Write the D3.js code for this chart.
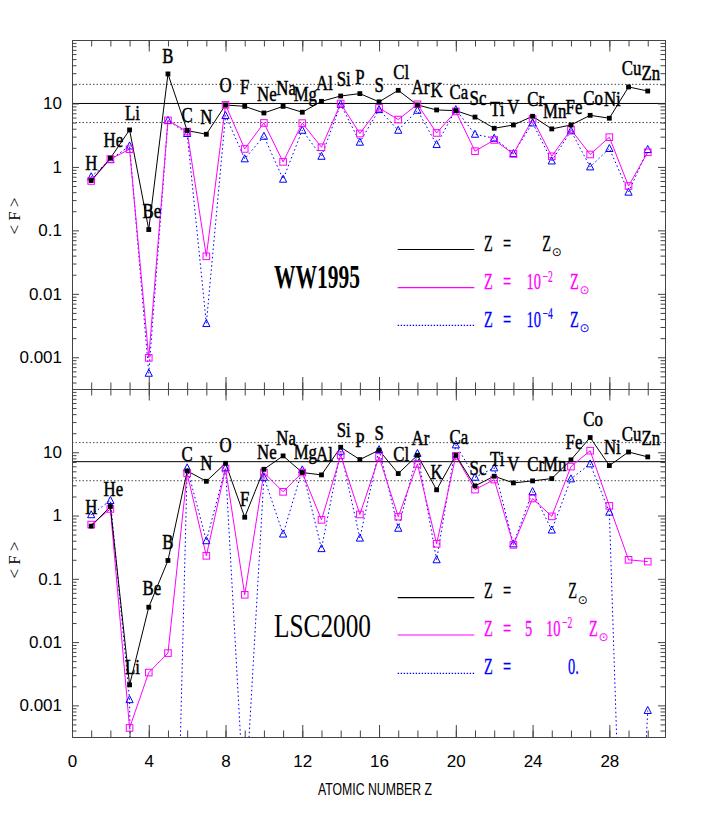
<!DOCTYPE html>
<html><head><meta charset="utf-8">
<script src="https://cdn.jsdelivr.net/npm/d3@7"></script>
<style>body{margin:0;background:#fff}svg{display:block}</style>
</head><body>
<svg id="c" width="708" height="830"></svg>
<script>
// ---------------- DATA ----------------
const elements = ["H","He","Li","Be","B","C","N","O","F","Ne","Na","Mg","Al","Si","P","S","Cl","Ar","K","Ca","Sc","Ti","V","Cr","Mn","Fe","Co","Ni","Cu","Zn"];
const atomicNumber = [1,2,3,4,5,6,7,8,9,10,11,12,13,14,15,16,17,18,19,20,21,22,23,24,25,26,27,28,29,30];

// WW1995
const wwSolar = [0.61,1.37,3.83,0.103,29.2,3.74,3.27,9.47,9.0,7.08,9.0,7.27,10.8,13.1,14.3,10.6,16.1,9.47,7.9,7.7,6.1,4.06,4.58,6.28,3.97,4.58,6.5,5.85,18.2,15.7];
const wwM2    = [0.6,1.33,1.9,0.00098,5.4,3.6,0.039,9.5,1.92,4.93,1.2,4.9,2.04,9.96,3.36,8.5,5.57,9.7,3.43,7.5,1.77,2.66,1.6,5.7,1.47,3.88,1.57,2.94,0.50,1.7];
const wwM4    = [0.70,1.3,2.14,0.00056,5.4,3.36,0.0034,6.45,1.34,3.04,0.64,3.78,1.47,9.7,2.45,8.0,3.78,7.8,2.25,8.0,3.27,2.83,1.63,4.93,1.24,3.7,1.0,1.95,0.40,1.88];
const wwLabelAt = [0.887,2.07,5.57,0.154,44.1,5.12,4.7,15.2,14.3,11.0,13.5,11.0,16.1,18.7,20.6,15.2,24.7,14.0,12.6,11.9,9.4,6.3,6.9,9.0,6.0,6.9,9.4,9.0,27.8,23.2];
const wwRef = [5,10,20];

// LSC2000
const lscSolar = [0.68,1.39,0.00211,0.0356,0.195,5.08,3.48,6.7,0.94,5.38,8.77,4.78,4.39,12.0,7.67,10.8,4.61,8.97,2.55,8.97,2.94,4.18,3.28,3.53,3.84,7.6,17.1,6.17,10.1,8.45];
const lsc5m2   = [0.72,1.27,0.00044,0.0033,0.0067,4.66,0.231,5.53,0.0559,4.78,2.37,4.78,0.855,8.97,1.04,8.45,0.96,6.55,0.357,8.77,2.57,3.7,0.344,1.86,0.97,5.94,10.6,1.42,0.2,0.187];
const lscZero  = [1.03,1.73,0.00123,1e-30,4e-12,5.67,0.40,5.67,2e-5,4.03,0.51,5.27,0.30,10.4,0.44,11.0,0.63,9.6,0.2,13.1,4.03,5.67,0.357,2.39,0.59,3.8,6.55,1.13,5e-10,0.00083];
const lscLabelAt = [1.06,2.07,0.00316,0.0545,0.298,7.4,5.27,10.0,1.44,7.85,13.2,7.85,7.4,17.3,12.0,15.7,7.4,13.2,3.8,13.6,4.45,6.17,5.14,5.14,5.14,11.3,26.4,9.44,15.3,12.8];
const lscRef = [3.55,7.1,14.2];

const yTickValues = [0.001,0.01,0.1,1,10];
const yTickLabels = ["0.001","0.01","0.1","1","10"];
const xTickValues = [0,4,8,12,16,20,24,28];
const xTickLabels = ["0","4","8","12","16","20","24","28"];

// ---------------- LAYOUT ----------------
const svg = d3.select("#c");
const X0 = 72, X1 = 665;
const x = d3.scaleLinear().domain([0,30.9]).range([X0,X1]);
const AX = "#444";
const tickFont = "'Liberation Sans Narrow','Liberation Sans',Arial,sans-serif";
const serif = "'Liberation Serif','Times New Roman',serif";

const panels = [
  {top:40, bottom:389, solar:wwSolar, low:wwM2, lowest:wwM4, labelAt:wwLabelAt, ref:wwRef,
   title:"WW1995", titleBold:true, titleLen:86, titleY:288,
   leg:{y:[249.5,287.7,325.3]}, yLabelY:216},
  {top:389, bottom:737, solar:lscSolar, low:lsc5m2, lowest:lscZero, labelAt:lscLabelAt, ref:lscRef,
   title:"LSC2000", titleBold:false, titleLen:97, titleY:636.5,
   leg:{y:[597.7,635,673.3]}, yLabelY:560}
];

function txt(g, str, px, py, o) {
  o = o || {};
  const t = g.append("text")
    .attr("transform", `translate(${px},${py}) scale(${o.sx||1},1)`)
    .attr("font-family", o.font || serif)
    .attr("font-size", o.size || 16)
    .attr("fill", o.color || "#000")
    .attr("text-anchor", o.anchor || "start")
    .text(str);
  if (o.weight) t.attr("font-weight", o.weight);
  if (o.stroke) t.attr("stroke", o.color || "#000").attr("stroke-width", o.stroke);
  return t;
}

panels.forEach((p, pi) => {
  const isLast = pi === panels.length - 1;
  const y = d3.scaleLog().domain([Math.pow(10,-3.5),100]).range([p.bottom,p.top]);
  const g = svg.append("g");
  const cid = "clip"+pi;
  svg.append("clipPath").attr("id",cid).append("rect")
    .attr("x",X0).attr("y",p.top).attr("width",X1-X0).attr("height",p.bottom-p.top);
  const plot = g.append("g").attr("clip-path",`url(#${cid})`);

  // reference lines
  p.ref.forEach((v,i) => {
    plot.append("line").attr("x1",X0).attr("x2",X1).attr("y1",y(v)).attr("y2",y(v))
      .attr("stroke", i===1 ? "#000" : "#333").attr("stroke-width", i===1 ? 1 : 0.9)
      .attr("stroke-dasharray", i===1 ? null : "1.5,2");
  });

  const pts = arr => arr.map((v,i)=>({z:atomicNumber[i], v:v}));
  const line = d3.line().x(d=>x(d.z)).y(d=>y(d.v));
  const inDom = d => d.v >= y.domain()[0] && d.v <= y.domain()[1];

  plot.append("path").datum(pts(p.lowest)).attr("d",line).attr("fill","none")
    .attr("stroke","#0000ff").attr("stroke-width",1).attr("stroke-dasharray","1.6,2.6");
  plot.append("path").datum(pts(p.low)).attr("d",line).attr("fill","none")
    .attr("stroke","#ff00ff").attr("stroke-width",1);
  plot.append("path").datum(pts(p.solar)).attr("d",line).attr("fill","none")
    .attr("stroke","#000").attr("stroke-width",1);

  plot.selectAll(".tri").data(pts(p.lowest).filter(inDom)).enter().append("path")
    .attr("d", d => { const cx=x(d.z), cy=y(d.v); return `M${cx-3.6},${cy+3}L${cx+3.6},${cy+3}L${cx},${cy-4}Z`; })
    .attr("fill","none").attr("stroke","#0000ff").attr("stroke-width",1);
  plot.selectAll(".sq").data(pts(p.low).filter(inDom)).enter().append("rect")
    .attr("x", d=>x(d.z)-3.3).attr("y", d=>y(d.v)-3.3).attr("width",6.6).attr("height",6.6)
    .attr("fill","none").attr("stroke","#ff00ff").attr("stroke-width",1);
  plot.selectAll(".bsq").data(pts(p.solar).filter(inDom)).enter().append("rect")
    .attr("x", d=>x(d.z)-2.4).attr("y", d=>y(d.v)-2.4).attr("width",4.8).attr("height",4.8)
    .attr("fill","#000");

  // axes
  const majorY = [0.001,0.01,0.1,1,10,100];
  const minorY = [];
  [1e-4,1e-3,1e-2,1e-1,1,10].forEach(d => { for (let k=2;k<=9;k++){ const v=k*d; if (v>=y.domain()[0] && v<=100) minorY.push(v);} });
  const minorX = atomicNumber.slice();
  const fmtY = v => { const i = yTickValues.indexOf(v); return i>=0 ? yTickLabels[i] : ""; };

  const styleAxis = sel => { sel.selectAll("path,line").attr("stroke",AX); sel.selectAll("text").attr("font-family",tickFont).attr("font-size",17).attr("fill","#000"); };

  g.append("g").attr("transform",`translate(${X0},0)`)
    .call(d3.axisLeft(y).tickValues(majorY).tickSize(-7).tickSizeOuter(0).tickPadding(10).tickFormat(fmtY)).call(styleAxis);
  g.append("g").attr("transform",`translate(${X0},0)`)
    .call(d3.axisLeft(y).tickValues(minorY).tickSize(-4.5).tickSizeOuter(0).tickFormat("")).call(styleAxis);
  g.append("g").attr("transform",`translate(${X1},0)`)
    .call(d3.axisRight(y).tickValues(majorY).tickSize(-7).tickSizeOuter(0).tickFormat("")).call(styleAxis);
  g.append("g").attr("transform",`translate(${X1},0)`)
    .call(d3.axisRight(y).tickValues(minorY).tickSize(-4.5).tickSizeOuter(0).tickFormat("")).call(styleAxis);

  g.append("g").attr("transform",`translate(0,${p.top})`)
    .call(d3.axisTop(x).tickValues(minorX).tickSize(-6.5).tickSizeOuter(0).tickFormat("")).call(styleAxis);
  g.append("g").attr("transform",`translate(0,${p.top})`)
    .call(d3.axisTop(x).tickValues(xTickValues).tickSize(-11.5).tickSizeOuter(0).tickFormat("")).call(styleAxis);
  g.append("g").attr("transform",`translate(0,${p.bottom})`)
    .call(d3.axisBottom(x).tickValues(minorX).tickSize(-6.5).tickSizeOuter(0).tickFormat("")).call(styleAxis);
  g.append("g").attr("transform",`translate(0,${p.bottom})`)
    .call(d3.axisBottom(x).tickValues(xTickValues).tickSize(-12).tickSizeOuter(0).tickPadding(18)
      .tickFormat(isLast ? (v => xTickLabels[xTickValues.indexOf(v)]) : "")).call(styleAxis);

  // element labels
  elements.forEach((el,i) => {
    const px = x(atomicNumber[i]) + (el.length>1 ? 3 : 0);
    txt(g, el, px, y(p.labelAt[i]), {size:21, sx:0.8, anchor:"middle", stroke:0.5});
  });

  // title
  g.append("text").attr("x",274).attr("y",p.titleY).attr("font-family",serif)
    .attr("font-size",p.titleBold?34:33).attr("font-weight",p.titleBold?"bold":"normal")
    .attr("textLength",p.titleLen).attr("lengthAdjust","spacingAndGlyphs").text(p.title);

  // y label
  g.append("text").attr("transform",`translate(20,${p.yLabelY}) rotate(-90)`)
    .attr("text-anchor","middle").attr("font-family",serif).attr("font-size",17)
    .text("< F >");

  // legend lines
  const cols = ["#000","#ff00ff","#0000ff"];
  p.leg.y.forEach((ly,i) => {
    g.append("line").attr("x1",397.7).attr("x2",474.3).attr("y1",ly).attr("y2",ly)
      .attr("stroke",cols[i]).attr("stroke-width",1.2)
      .attr("stroke-dasharray", i===2 ? "1.4,1.6" : null);
  });
});

// legend text
const LS = {size:24, sx:0.6, stroke:0.3};
function Zsun(g, px, by, col) {
  txt(g, "Z", px, by, Object.assign({}, LS, {color:col}));
  txt(g, "\u2299", px+9.5, by+5.5, {size:12, color:col, font:"'DejaVu Sans',sans-serif"});
}
function lhs(g, by, col) {
  txt(g, "Z", 484, by, Object.assign({}, LS, {color:col}));
  txt(g, "=", 503, by, Object.assign({}, LS, {color:col}));
}
const lg = svg.append("g");
// WW1995 legend
lhs(lg, 250.5, "#000"); Zsun(lg, 542.3, 250.5, "#000");
lhs(lg, 288.8, "#ff00ff");
txt(lg, "10", 526.5, 288.8, Object.assign({}, LS, {color:"#ff00ff"}));
txt(lg, "\u22122", 542.5, 281.5, {size:16, sx:0.6, color:"#ff00ff", stroke:0.2});
Zsun(lg, 570, 288.8, "#ff00ff");
lhs(lg, 326.5, "#0000ff");
txt(lg, "10", 526.5, 326.5, Object.assign({}, LS, {color:"#0000ff"}));
txt(lg, "\u22124", 542.5, 319.2, {size:16, sx:0.6, color:"#0000ff", stroke:0.2});
Zsun(lg, 570, 326.5, "#0000ff");
// LSC2000 legend
lhs(lg, 598, "#000"); Zsun(lg, 568.3, 598, "#000");
lhs(lg, 635.5, "#ff00ff");
txt(lg, "5", 525, 635.5, Object.assign({}, LS, {color:"#ff00ff"}));
txt(lg, "10", 546, 635.5, Object.assign({}, LS, {color:"#ff00ff"}));
txt(lg, "\u22122", 562, 628.2, {size:16, sx:0.6, color:"#ff00ff", stroke:0.2});
Zsun(lg, 589, 635.5, "#ff00ff");
lhs(lg, 673.8, "#0000ff");
txt(lg, "0.", 568, 673.8, Object.assign({}, LS, {color:"#0000ff"}));

// x axis title
svg.append("text").attr("x",318).attr("y",795).attr("font-family",tickFont).attr("font-size",17)
  .attr("textLength",114).attr("lengthAdjust","spacingAndGlyphs").text("ATOMIC NUMBER Z");
</script>
</body></html>
